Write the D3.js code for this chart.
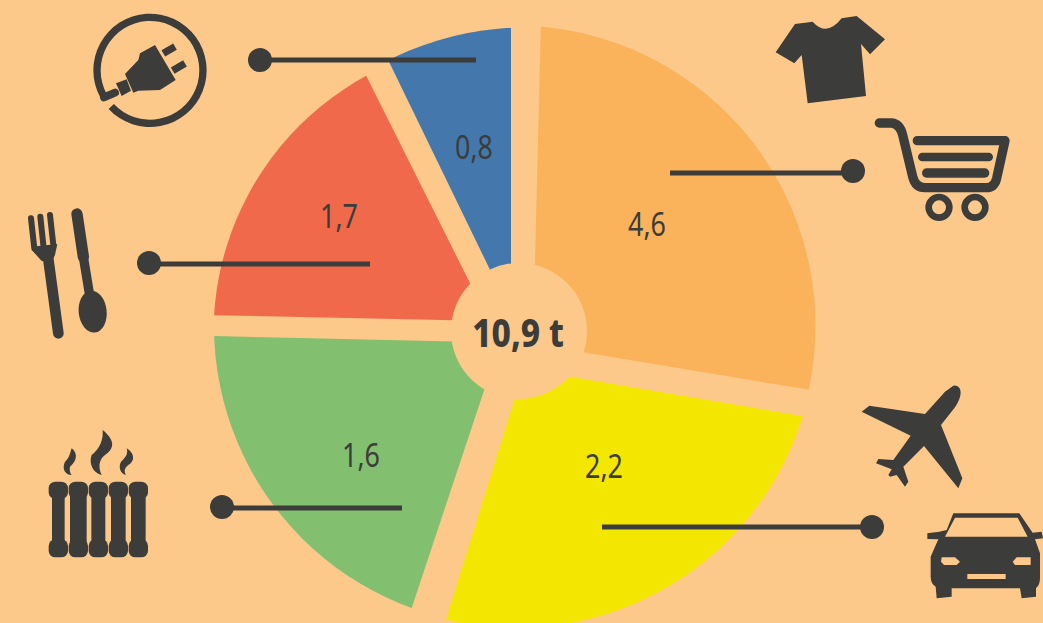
<!DOCTYPE html>
<html><head><meta charset="utf-8">
<script src="https://cdn.jsdelivr.net/npm/d3@7"></script>
<style>html,body{margin:0;padding:0;background:#FDC98B;overflow:hidden}svg{display:block}</style>
</head><body><div id="chart"></div>
<script>
// ---- data ----
const categories = ["Strom","Ernährung","Heizung","Mobilität","Konsum"];
const values = [0.8,1.7,1.6,2.2,4.6];
const total = 10.9;
const sweepDegrees = [25.9,62.2,72.9,97.7,98.0];
const colours = ["#4478AC","#EF694A","#82C06F","#F3E600","#FAB35B"];

// ---- layout ----
const W=1043,H=623, dark="#3C3C3B", bg="#FDC98B";
const fmt = v => d3.format(".1f")(v).replace(".",",");
const startDeg = [-25.9,-88.8,-161.6,99.6,1.4];
const apex = [[511,313],[489,321],[500,342.5],[524,369],[533,344]];
const rim = [[525,328,300.5],[506.5,333,293],[514,326,300],[516,328,300],[515,326,300.5]];
const hole = {x:519,y:331,r:68};
const labelPos = [[474,159],[339,228],[361,467],[604,478],[647,236]];
const leaders = [
 {dot:[260,60],end:[476,60]},
 {dot:[149,263],end:[370,264]},
 {dot:[222,507],end:[402,508]},
 {dot:[872,527],end:[602,527]},
 {dot:[853,171],end:[670,173]}];
const fontFam = "'Noto Sans', sans-serif";

const svg = d3.select("#chart").append("svg").attr("width",W).attr("height",H);
svg.append("rect").attr("width",W).attr("height",H).attr("fill",bg);

const rad = d3.scaleLinear().domain([0,360]).range([0,2*Math.PI]);
const wedge = d3.arc().innerRadius(0).outerRadius(700);
const slices = values.map((v,i)=>({v,i,startAngle:rad(startDeg[i]),endAngle:rad(startDeg[i]+sweepDegrees[i])}));

const defs = svg.append("defs");
defs.selectAll("clipPath").data(slices).join("clipPath").attr("id",d=>"rim"+d.i)
  .append("circle").attr("cx",d=>rim[d.i][0]).attr("cy",d=>rim[d.i][1]).attr("r",d=>rim[d.i][2]);

svg.append("g").selectAll("g").data(slices).join("g")
  .attr("clip-path",d=>`url(#rim${d.i})`)
  .append("path").attr("transform",d=>`translate(${apex[d.i]})`)
  .attr("d",wedge).attr("fill",d=>colours[d.i]);

svg.append("circle").attr("cx",hole.x).attr("cy",hole.y).attr("r",hole.r).attr("fill",bg);

// leaders
const lg = svg.append("g");
lg.selectAll("line").data(leaders).join("line")
  .attr("x1",d=>d.dot[0]).attr("y1",d=>d.end[1]).attr("x2",d=>d.end[0]).attr("y2",d=>d.end[1])
  .attr("stroke",dark).attr("stroke-width",5);
lg.selectAll("circle").data(leaders).join("circle")
  .attr("cx",d=>d.dot[0]).attr("cy",d=>d.dot[1]).attr("r",12).attr("fill",dark);

// labels
svg.append("g").selectAll("text").data(slices).join("text")
  .attr("transform",d=>`translate(${labelPos[d.i]}) scale(0.84,1)`)
  .attr("text-anchor","middle").attr("font-family",fontFam).attr("font-size",32).attr("fill",dark)
  .text(d=>fmt(d.v));
svg.append("text").attr("transform","translate(518,347) scale(0.86,1)").attr("text-anchor","middle")
  .attr("font-family",fontFam).attr("font-weight",800).attr("font-size",39).attr("fill",dark)
  .text(fmt(total)+" t");

// ---- pictograms ----
function icon(ox,oy){return svg.append("g").attr("transform",`translate(${ox},${oy}) scale(${1/3})`).attr("fill",dark);}
function strokeP(g,d,w,cap){g.append("path").attr("d",d).attr("fill","none").attr("stroke",dark).attr("stroke-width",w).attr("stroke-linecap",cap||"round").attr("stroke-linejoin","round");}

// plug
let g = icon(0,0);
g.append("path").attr("transform","translate(450,211)")
  .attr("d",d3.arc().innerRadius(148).outerRadius(170).startAngle(rad(241)).endAngle(rad(587))());
strokeP(g,"M312,292 L345,278",24,"round");
g.append("path").attr("d","M420,160 L465,135 L527,240 L480,270 L415,272 L400,278 L375,222 L415,180 Z");
g.append("path").attr("d","M348,250 L380,238 L393,272 L365,288 Z");
strokeP(g,"M490,160 L525,140",22,"butt");
strokeP(g,"M518,212 L555,190",22,"butt");

// fork and spoon
g = icon(0,0);
strokeP(g,"M93,655 L103,745",18); strokeP(g,"M121,650 L130,735",18); strokeP(g,"M150,645 L160,735",18);
g.append("path").attr("d","M95,740 L172,732 L165,765 L155,785 L125,783 L100,755 Z");
strokeP(g,"M144,770 L175,1000",32);
strokeP(g,"M231,642 L250,770",34);
strokeP(g,"M250,770 L268,880",28);
g.append("ellipse").attr("cx",278).attr("cy",935).attr("rx",42).attr("ry",63).attr("transform","rotate(-6 278 935)");

// shirt
g = icon(760,0);
g.append("path").attr("d","M47,157 L105,72 L158,65 Q200,112 245,55 L290,48 L375,118 L330,163 L303,132 L318,288 L143,310 L125,165 L103,190 Z");

// cart
g = icon(760,0);
strokeP(g,"M358,369 H395 Q420,372 428,405 L458,530 Q466,563 495,563 H680 Q703,563 710,535 L735,422 H472",28);
strokeP(g,"M487,471 H686",26);
strokeP(g,"M500,519 H674",28);
g.append("circle").attr("cx",537).attr("cy",622).attr("r",31).attr("fill","none").attr("stroke",dark).attr("stroke-width",20);
g.append("circle").attr("cx",645).attr("cy",622).attr("r",31).attr("fill","none").attr("stroke",dark).attr("stroke-width",20);

// plane
g = icon(840,370);
g.append("path").attr("d","M340,47 Q362,45 362,70 Q360,90 345,112 L303,165 L367,325 L355,355 L252,228 L190,290 L205,335 L195,350 L170,315 L150,320 L145,315 L155,298 L108,280 L115,267 L160,270 L212,197 L65,125 L88,107 L255,132 L315,65 Z");

// car
g = icon(840,370);
g.append("path").attr("fill-rule","evenodd").attr("d","M340,430 L538,430 L578,488 L605,485 L609,505 L585,508 L600,550 L600,625 Q600,645 588,655 L588,680 L545,685 L540,655 L335,655 L335,680 L290,685 L287,650 Q272,640 272,620 L272,560 L295,508 L262,507 L262,490 L298,485 L320,480 Z M345,443 L533,443 L563,500 L315,500 Z M305,562 L345,562 L360,575 L350,585 L312,585 L303,575 Z M530,562 L572,562 L572,585 L525,585 L518,575 Z M382,612 H497 V627 H382 Z");

// radiator
g = icon(20,420);
[[115,38],[175,50],[235,42],[295,44],[355,44]].forEach(([x,w])=>{
  strokeP(g,`M${x},205 V390`,w,"butt");
  g.append("rect").attr("x",x-29).attr("y",185).attr("width",58).attr("height",52).attr("rx",20);
  g.append("rect").attr("x",x-29).attr("y",358).attr("width",58).attr("height",54).attr("rx",20);
});
g.append("path").attr("d","M155,85 C175,100 170,125 150,140 C148,150 150,160 155,165 C135,165 125,145 135,125 C148,115 150,100 155,85 Z");
g.append("path").attr("d","M248,30 C285,60 285,85 255,105 C235,120 235,145 245,165 C220,160 205,130 215,105 C240,85 250,60 248,30 Z");
g.append("path").attr("d","M320,85 C345,100 345,125 325,135 C312,145 312,155 318,165 C300,160 295,140 303,125 C318,112 325,100 320,85 Z");
</script></body></html>
